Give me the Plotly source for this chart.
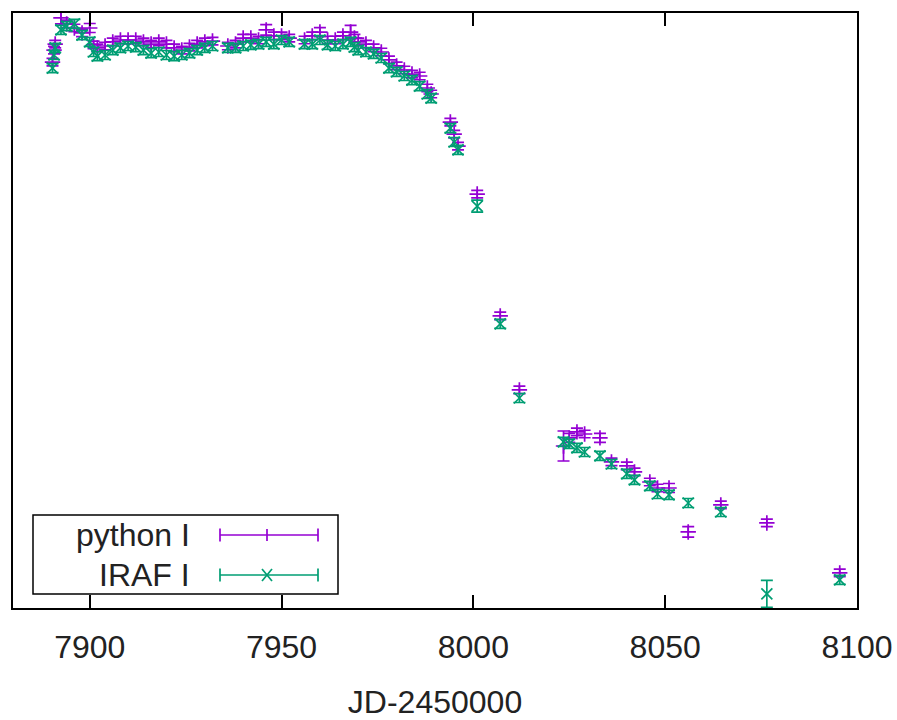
import plotly.graph_objects as go

# ---------------- data ----------------
jd = [7890.3, 7890.7, 7891, 7892.5, 7894, 7896, 7898, 7900, 7901, 7902, 7904, 7906, 7908,
      7910, 7912, 7914, 7916, 7918, 7920, 7922, 7924, 7926, 7928, 7930, 7932,
      7936, 7938, 7940, 7942, 7944, 7946, 7948, 7950, 7952, 7956, 7958, 7960, 7962,
      7964, 7966, 7968, 7969, 7970, 7972, 7974, 7976, 7978, 7980, 7982, 7984, 7986,
      7988, 7989, 7994, 7995, 7996, 8001, 8007, 8012, 8023.5, 8025, 8027, 8029,
      8033, 8036, 8040, 8042, 8046, 8048, 8051, 8056, 8064.5, 8076.5, 8095.5]

python_I = [13.327, 13.247, 13.207, 13.033, 13.073, 13.100, 13.133, 13.100, 13.213, 13.233,
            13.220, 13.193, 13.180, 13.180, 13.180, 13.193, 13.207, 13.193, 13.207, 13.233,
            13.247, 13.227, 13.207, 13.193, 13.187,
            13.220, 13.207, 13.167, 13.167, 13.180, 13.113, 13.153, 13.153, 13.167, 13.180,
            13.153, 13.127, 13.180, 13.180, 13.153, 13.127, 13.167, 13.193, 13.207, 13.233,
            13.260, 13.313, 13.353, 13.380, 13.407, 13.420, 13.500, 13.540, 13.727, 13.807,
            13.887, 14.207, 15.020, 15.513, 15.887, 15.833, 15.793, 15.807, 15.833, 15.993,
            16.020, 16.060, 16.127, 16.167, 16.167, 16.460, 16.280, 16.400, 16.733]
python_err = [0.025, 0.025, 0.025, 0.04, 0.025, 0.025, 0.025, 0.03, 0.025, 0.025,
              0.025, 0.025, 0.025, 0.025, 0.025, 0.025, 0.025, 0.025, 0.025, 0.025,
              0.025, 0.025, 0.025, 0.025, 0.025,
              0.025, 0.025, 0.025, 0.025, 0.025, 0.035, 0.025, 0.025, 0.025, 0.025,
              0.025, 0.03, 0.025, 0.025, 0.025, 0.045, 0.025, 0.025, 0.025, 0.025,
              0.025, 0.025, 0.025, 0.025, 0.025, 0.025, 0.025, 0.025, 0.025, 0.025,
              0.025, 0.025, 0.025, 0.025, 0.10, 0.03, 0.025, 0.025, 0.03, 0.025,
              0.025, 0.025, 0.025, 0.025, 0.03, 0.035, 0.025, 0.025, 0.025]

iraf_I = [13.367, 13.280, 13.233, 13.113, 13.087, 13.073, 13.147, 13.193, 13.260, 13.287,
          13.280, 13.247, 13.233, 13.220, 13.227, 13.247, 13.267, 13.260, 13.280, 13.287,
          13.280, 13.267, 13.247, 13.233, 13.220,
          13.233, 13.233, 13.220, 13.213, 13.207, 13.193, 13.207, 13.180, 13.193, 13.207,
          13.207, 13.180, 13.213, 13.220, 13.207, 13.193, 13.227, 13.247, 13.260, 13.273,
          13.300, 13.367, 13.393, 13.420, 13.447, 13.487, 13.540, 13.567, 13.767, 13.860,
          13.913, 14.287, 15.073, 15.567, 15.860, 15.873, 15.900, 15.927, 15.953, 16.007,
          16.073, 16.113, 16.153, 16.207, 16.213, 16.267, 16.327, 16.873, 16.780]
iraf_err = [0.03] * 56 + [0.04, 0.03, 0.03, 0.03, 0.03, 0.03, 0.03, 0.03, 0.03,
                          0.03, 0.03, 0.03, 0.03, 0.03, 0.03, 0.03, 0.09, 0.03]

x_ticks = [7900, 7950, 8000, 8050, 8100]
x_range = [7880, 8100]
y_range = [16.967, 13.0]   # magnitudes, brighter on top

PURPLE = "#9400D3"
GREEN = "#009E73"
FONT = "Liberation Sans, Arial"
FS = 32

fig = go.Figure()
fig.add_trace(go.Scatter(
    x=jd, y=python_I, mode="markers", name="python I",
    marker=dict(symbol="cross-thin", size=11, color=PURPLE, line=dict(color=PURPLE, width=1.7)),
    error_y=dict(type="data", array=python_err, color=PURPLE, thickness=1.7, width=6),
))
fig.add_trace(go.Scatter(
    x=jd, y=iraf_I, mode="markers", name="IRAF I",
    marker=dict(symbol="x-thin", size=11, color=GREEN, line=dict(color=GREEN, width=1.7)),
    error_y=dict(type="data", array=iraf_err, color=GREEN, thickness=1.7, width=6),
))

# plot area in pixels (for the hand-drawn gnuplot-style key)
L, R, T, B = 13, 857, 13, 608
def px(x):
    return (x - L) / (R - L)
def py(y):
    return (B - y) / (B - T)

shapes = [dict(type="rect", xref="paper", yref="paper", x0=px(33), x1=px(338), y0=py(594), y1=py(515),
               line=dict(color="black", width=1.5), fillcolor="white", layer="above")]
annotations = []
for label, color, yc, sym in [("python I", PURPLE, 535, "+"), ("IRAF I", GREEN, 575, "x")]:
    annotations.append(dict(xref="paper", yref="paper", x=px(192), y=py(yc), text=label,
                            showarrow=False, xanchor="right", yanchor="middle",
                            font=dict(family=FONT, size=FS, color="#222222")))
    shapes.append(dict(type="line", xref="paper", yref="paper", x0=px(220), x1=px(318), y0=py(yc), y1=py(yc),
                       line=dict(color=color, width=1.7), layer="above"))
    for xc in (220, 318):
        shapes.append(dict(type="line", xref="paper", yref="paper", x0=px(xc), x1=px(xc),
                           y0=py(yc - 6.5), y1=py(yc + 6.5), line=dict(color=color, width=1.7), layer="above"))
    if sym == "+":
        shapes.append(dict(type="line", xref="paper", yref="paper", x0=px(267), x1=px(267),
                           y0=py(yc - 6), y1=py(yc + 6), line=dict(color=color, width=1.7), layer="above"))
    else:
        shapes.append(dict(type="line", xref="paper", yref="paper", x0=px(262), x1=px(272),
                           y0=py(yc - 6), y1=py(yc + 6), line=dict(color=color, width=1.7), layer="above"))
        shapes.append(dict(type="line", xref="paper", yref="paper", x0=px(262), x1=px(272),
                           y0=py(yc + 6), y1=py(yc - 6), line=dict(color=color, width=1.7), layer="above"))

fig.update_layout(
    width=897, height=720,
    margin=dict(l=L, r=897 - R, t=T, b=720 - B, autoexpand=False),
    paper_bgcolor="white", plot_bgcolor="white",
    showlegend=False,
    font=dict(family=FONT, size=FS, color="#222222"),
    shapes=shapes, annotations=annotations,
    xaxis=dict(range=x_range, tickvals=x_ticks, ticks="inside", ticklen=13, tickwidth=1.5,
               tickcolor="black", showline=True, linecolor="black", linewidth=1.5, mirror="ticks",
               showgrid=False, zeroline=False, ticklabelstandoff=10, automargin=False,
               title=dict(text="JD-2450000", standoff=28, font=dict(size=FS))),
    yaxis=dict(range=y_range, showticklabels=False, ticks="", showline=True, linecolor="black",
               linewidth=1.5, mirror=True, showgrid=False, zeroline=False, automargin=False),
)

fig.write_html("out.html")
